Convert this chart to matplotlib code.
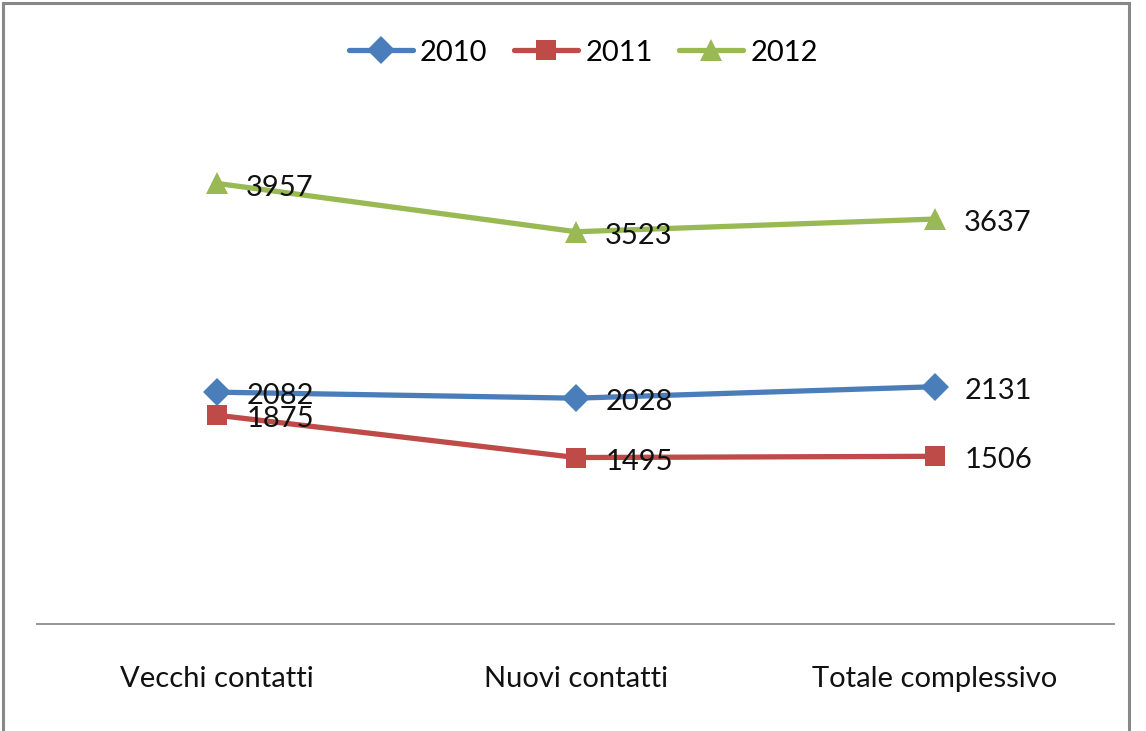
import matplotlib.pyplot as plt
from matplotlib.patches import Rectangle

# data
categories = ['Vecchi contatti', 'Nuovi contatti', 'Totale complessivo']
anni = ['2010', '2011', '2012']
v2010 = [2082, 2028, 2131]
v2011 = [1875, 1495, 1506]
v2012 = [3957, 3523, 3637]

plt.rcParams['font.family'] = ['Lato', 'DejaVu Sans']

fig = plt.figure(figsize=(11.46, 7.31), dpi=100)
ax = fig.add_axes([0.0327, 0.1464, 0.9398, 0.6854])

x = list(range(len(categories)))
series = [
    (v2010, '#4A7EBB', 'D', 14),
    (v2011, '#BE4B48', 's', 14),
    (v2012, '#98B954', '^', 16),
]
for (vals, col, mk, ms), anno in zip(series, anni):
    ax.plot(x, vals, color=col, lw=3.8, marker=mk, markersize=ms,
            markeredgewidth=0, label=anno, solid_capstyle='round')
    for xi, v in zip(x, vals):
        ax.annotate(str(v), (xi, v), xytext=(21, -3), textcoords='offset points',
                    ha='left', va='center', fontsize=21, color='#111111')

ax.set_xlim(-0.5, 2.5)
ax.set_ylim(0, 4500)
ax.set_yticks([])
ax.set_xticks(x)
ax.set_xticklabels(categories, fontsize=21, color='#111111')
ax.tick_params(axis='x', length=0, pad=30)
for s in ['top', 'right', 'left']:
    ax.spines[s].set_visible(False)
ax.spines['bottom'].set_color('#8c8c8c')
ax.spines['bottom'].set_linewidth(1.3)

leg = ax.legend(loc='center', bbox_to_anchor=(0.509, 0.928), bbox_transform=fig.transFigure,
                ncol=3, frameon=False, fontsize=21, handlelength=2.2,
                columnspacing=0.9, handletextpad=0.25)

# outer frame
fig.patches.append(Rectangle((0.003, -0.01), 0.982, 1.006, transform=fig.transFigure,
                             fill=False, edgecolor='#888888', lw=2.2))

fig.savefig('out.png', dpi=100)
